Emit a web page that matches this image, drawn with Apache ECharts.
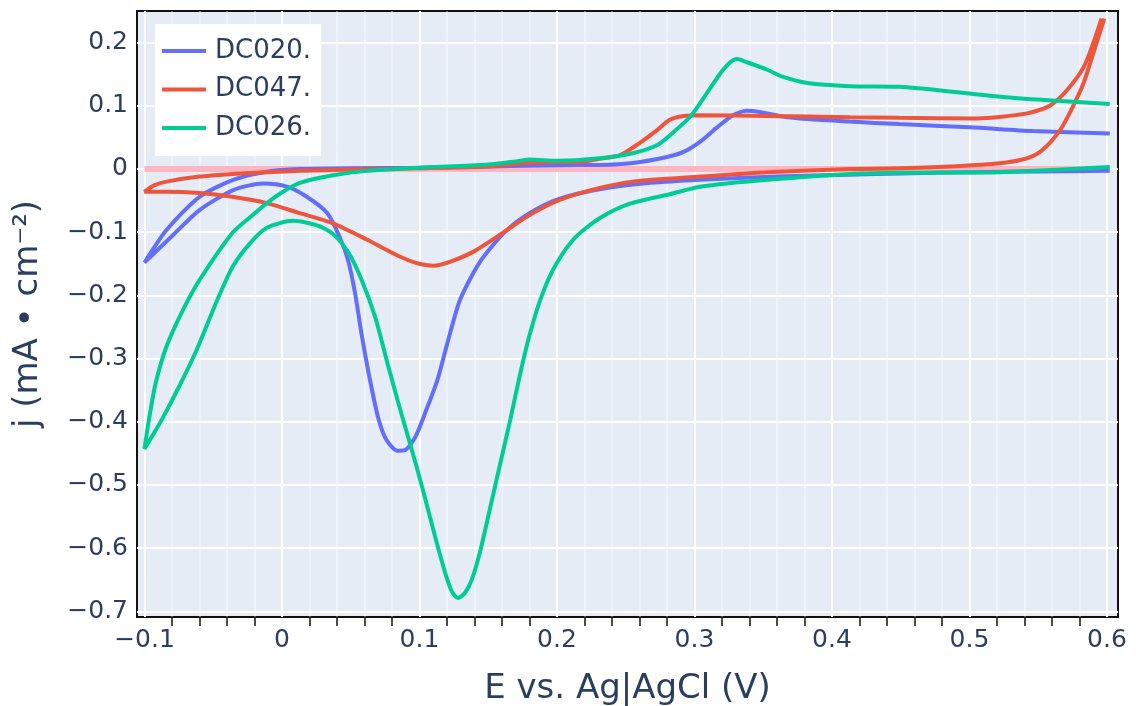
<!DOCTYPE html>
<html>
<head>
<meta charset="utf-8">
<script src="https://cdn.jsdelivr.net/npm/echarts@6/dist/echarts.min.js"></script>
<style>
html,body{margin:0;padding:0;background:#fff;}
#chart{width:1136px;height:706px;}
</style>
</head>
<body>
<div id="chart"></div>
<script>
// ---- data ----
const seriesNames = ['DC020.', 'DC047.', 'DC026.'];
const xTicks = [-0.1, 0, 0.1, 0.2, 0.3, 0.4, 0.5, 0.6];
const xMinorTicks = [-0.08, -0.06, -0.04, -0.02, 0.02, 0.04, 0.06, 0.08, 0.12, 0.14, 0.16, 0.18,
  0.22, 0.24, 0.26, 0.28, 0.32, 0.34, 0.36, 0.38, 0.42, 0.44, 0.46, 0.48, 0.52, 0.54, 0.56, 0.58];
const yTicks = [-0.7, -0.6, -0.5, -0.4, -0.3, -0.2, -0.1, 0, 0.1, 0.2];
const zeroLine = [[-0.1, 0], [0.6, 0]];

const dc020 = [
  [0.602, -0.003], [0.55, -0.004], [0.5, -0.005], [0.45, -0.007], [0.413, -0.009], [0.36, -0.012],
  [0.304, -0.017], [0.268, -0.022], [0.231, -0.032], [0.202, -0.047], [0.18, -0.07], [0.162, -0.1],
  [0.144, -0.147], [0.1295, -0.207], [0.12, -0.278], [0.113, -0.334], [0.105, -0.381], [0.097, -0.424],
  [0.0895, -0.445], [0.084, -0.446], [0.076, -0.429], [0.07, -0.394], [0.064, -0.334], [0.058, -0.263],
  [0.053, -0.195], [0.048, -0.144], [0.042, -0.108], [0.033, -0.07], [0.018, -0.044], [0.0036, -0.028],
  [-0.0136, -0.023], [-0.035, -0.033], [-0.06, -0.065], [-0.079, -0.104], [-0.1, -0.148],
  [-0.084, -0.0965], [-0.06, -0.044], [-0.035, -0.017], [-0.011, -0.0043], [0.013, 0.0], [0.05, 0.001],
  [0.1, 0.002], [0.15, 0.004], [0.2, 0.006], [0.231, 0.0063], [0.255, 0.0095], [0.28, 0.019],
  [0.292, 0.027], [0.304, 0.043], [0.316, 0.065], [0.328, 0.085], [0.338, 0.092], [0.348, 0.09],
  [0.364, 0.083], [0.382, 0.079], [0.413, 0.075], [0.449, 0.071], [0.5, 0.066], [0.546, 0.06], [0.602, 0.056]
];

const dc047 = [
  [0.598, 0.238], [0.59, 0.183], [0.583, 0.136], [0.575, 0.098], [0.566, 0.062], [0.553, 0.03],
  [0.542, 0.017], [0.522, 0.009], [0.486, 0.004], [0.449, 0.001], [0.413, 0.0], [0.353, -0.005],
  [0.304, -0.012], [0.255, -0.02], [0.231, -0.03], [0.202, -0.049], [0.18, -0.073], [0.16, -0.102],
  [0.14, -0.13], [0.122, -0.147], [0.11, -0.153], [0.098, -0.149], [0.086, -0.139], [0.062, -0.112],
  [0.037, -0.086], [0.013, -0.07], [-0.011, -0.054], [-0.036, -0.044], [-0.06, -0.038], [-0.084, -0.036],
  [-0.1, -0.036],
  [-0.093, -0.026], [-0.084, -0.02], [-0.06, -0.012], [-0.036, -0.008], [-0.011, -0.005], [0.013, -0.003],
  [0.05, -0.001], [0.1, 0.001], [0.15, 0.004], [0.18, 0.01], [0.2, 0.011], [0.22, 0.012], [0.231, 0.016],
  [0.246, 0.022], [0.26, 0.041], [0.273, 0.062], [0.282, 0.078], [0.292, 0.084], [0.304, 0.085],
  [0.353, 0.084], [0.413, 0.082], [0.449, 0.081], [0.505, 0.08], [0.542, 0.088], [0.559, 0.101],
  [0.571, 0.125], [0.583, 0.161], [0.59, 0.199], [0.596, 0.238]
];

const dc026 = [
  [0.602, 0.003], [0.522, -0.005], [0.449, -0.006], [0.413, -0.008], [0.353, -0.017], [0.304, -0.028],
  [0.282, -0.04], [0.253, -0.055], [0.231, -0.078], [0.213, -0.109], [0.199, -0.152], [0.189, -0.2],
  [0.18, -0.263], [0.173, -0.326], [0.166, -0.397], [0.1585, -0.468], [0.151, -0.54], [0.144, -0.606],
  [0.138, -0.65], [0.133, -0.671], [0.128, -0.679], [0.1236, -0.669], [0.1185, -0.638], [0.111, -0.579],
  [0.1025, -0.508], [0.0945, -0.445], [0.086, -0.381], [0.077, -0.31], [0.068, -0.236], [0.058, -0.176],
  [0.048, -0.131], [0.037, -0.103], [0.025, -0.089], [0.008, -0.082], [-0.011, -0.093], [-0.023, -0.117],
  [-0.036, -0.155], [-0.047, -0.207], [-0.062, -0.286], [-0.075, -0.345], [-0.087, -0.395],
  [-0.095, -0.425], [-0.1, -0.443],
  [-0.097, -0.40], [-0.092, -0.34], [-0.084, -0.281], [-0.072, -0.223], [-0.06, -0.176], [-0.036, -0.101],
  [-0.023, -0.076], [-0.011, -0.054], [0.0007, -0.036], [0.013, -0.022], [0.037, -0.01], [0.062, -0.003],
  [0.11, 0.003], [0.15, 0.007], [0.17, 0.012], [0.18, 0.015], [0.2, 0.013], [0.231, 0.017], [0.255, 0.025],
  [0.273, 0.038], [0.284, 0.057], [0.297, 0.083], [0.309, 0.12], [0.319, 0.152], [0.326, 0.169],
  [0.331, 0.174], [0.338, 0.169], [0.353, 0.157], [0.364, 0.146], [0.382, 0.136], [0.413, 0.131],
  [0.449, 0.13], [0.498, 0.12], [0.535, 0.112], [0.602, 0.103]
];

// ---- chart ----
const TXT = '#2a3f5f';
const FONT = 'DejaVu Sans';
function fmt(v) {
  const r = Math.round(v * 10) / 10;
  if (r === 0) return '0';
  return (r < 0 ? '\u2212' : '') + Math.abs(r).toString();
}
const X_MIN = -0.10545, X_MAX = 0.608, Y_MIN = -0.709, Y_MAX = 0.25;

const chart = echarts.init(document.getElementById('chart'), null, { renderer: 'canvas' });
chart.setOption({
  animation: false,
  backgroundColor: '#ffffff',
  textStyle: { fontFamily: FONT },
  grid: {
    left: 137, right: 18, top: 11, bottom: 89,
    containLabel: false, outerBoundsMode: 'none',
    show: true, backgroundColor: '#E5ECF6', borderColor: '#111', borderWidth: 2
  },
  legend: {
    data: seriesNames,
    orient: 'vertical',
    left: 155, top: 24,
    backgroundColor: '#ffffff',
    padding: [14, 10, 15, 7],
    itemWidth: 44, itemHeight: 4, itemGap: 12.5,
    icon: 'rect',
    textStyle: { fontSize: 26, color: TXT, fontFamily: FONT, padding: [0, 0, 0, 4], lineHeight: 26 }
  },
  xAxis: [
    {
      type: 'value', min: X_MIN, max: X_MAX, splitNumber: 7, position: 'bottom',
      name: 'E vs. Ag|AgCl (V)', nameLocation: 'middle', nameGap: 55,
      nameTextStyle: { fontSize: 34, color: TXT, fontFamily: FONT },
      axisLine: { show: false, onZero: false },
      axisTick: { show: true, inside: false, length: 9, customValues: xMinorTicks, lineStyle: { color: '#111', width: 1.5 } },
      axisLabel: { customValues: xTicks, formatter: fmt, fontSize: 25, color: TXT, fontFamily: FONT, margin: 11 },
      splitLine: { show: true, lineStyle: { color: 'rgba(255,255,255,0.45)', width: 1.5 } }
    },
    {
      type: 'value', min: X_MIN, max: X_MAX, splitNumber: 7, position: 'bottom',
      axisLine: { show: false, onZero: false },
      axisTick: { show: false, customValues: xTicks },
      axisLabel: { show: false },
      splitLine: { show: true, lineStyle: { color: '#ffffff', width: 2 } }
    }
  ],
  yAxis: {
    type: 'value', min: Y_MIN, max: Y_MAX, splitNumber: 10, position: 'left',
    name: 'j (mA \u2022 cm\u207B\u00B2)', nameLocation: 'middle', nameGap: 92,
    nameTextStyle: { fontSize: 34, color: TXT, fontFamily: FONT },
    axisLine: { show: false, onZero: false },
    axisTick: { show: false, customValues: yTicks },
    axisLabel: { customValues: yTicks, formatter: fmt, fontSize: 25, color: TXT, fontFamily: FONT, margin: 9 },
    splitLine: { show: true, lineStyle: { color: '#ffffff', width: 2 } }
  },
  series: [
    {
      name: 'zero', type: 'line', data: zeroLine, showSymbol: false, silent: true,
      lineStyle: { color: '#FFB6C1', width: 6 }, itemStyle: { color: '#FFB6C1' }, z: 1
    },
    {
      name: seriesNames[0], type: 'line', data: dc020, showSymbol: false, smooth: 0.25,
      lineStyle: { color: '#636EFA', width: 4 }, itemStyle: { color: '#636EFA' }, z: 2
    },
    {
      name: seriesNames[1], type: 'line', data: dc047, showSymbol: false, smooth: 0.25,
      lineStyle: { color: '#EF553B', width: 4 }, itemStyle: { color: '#EF553B' }, z: 3
    },
    {
      name: seriesNames[2], type: 'line', data: dc026, showSymbol: false, smooth: 0.25,
      lineStyle: { color: '#00CC96', width: 4 }, itemStyle: { color: '#00CC96' }, z: 4
    }
  ]
});
</script>
</body>
</html>
